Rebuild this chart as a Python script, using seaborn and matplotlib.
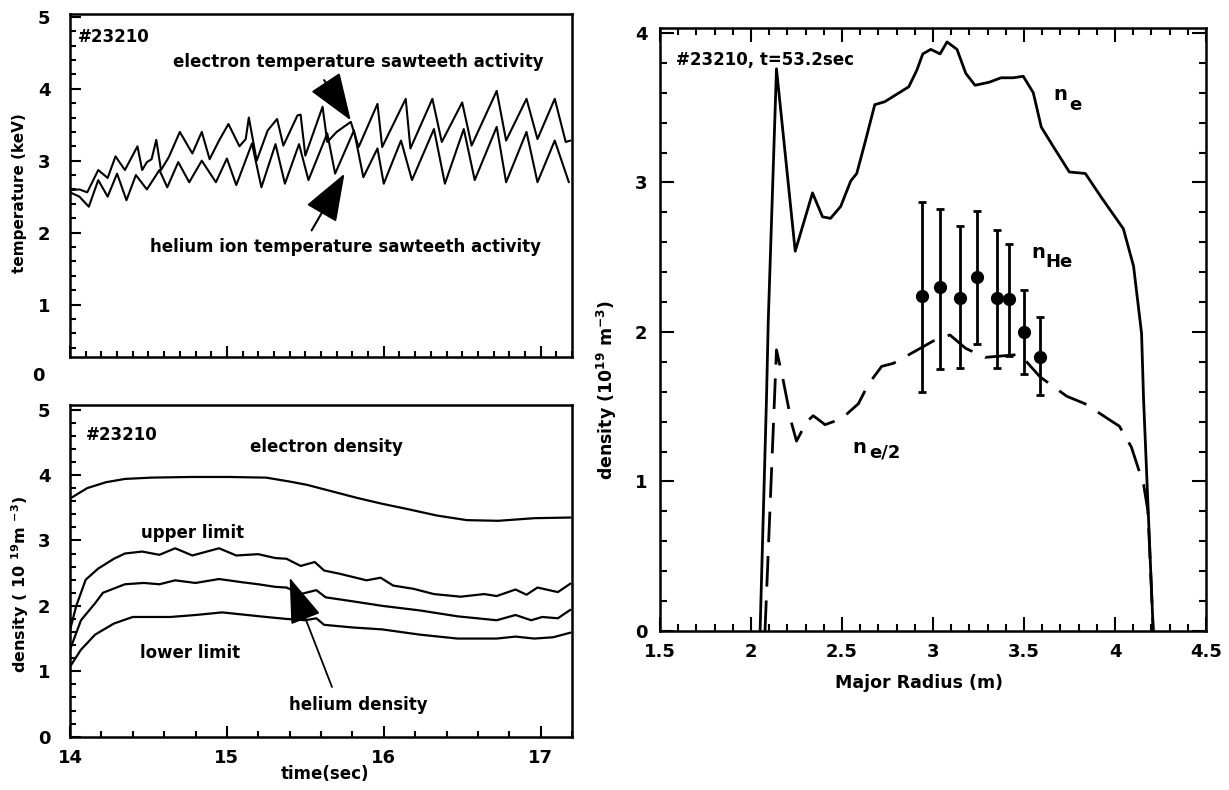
import matplotlib
matplotlib.use("Agg")
import matplotlib.pyplot as plt
import matplotlib.transforms as mtransforms
from matplotlib.ticker import MultipleLocator
import seaborn as sns

# ---------------- data: top-left (temperature sawteeth) ----------------
te_time = [14.00, 14.06, 14.11, 14.18, 14.24, 14.29, 14.35, 14.43, 14.46, 14.49, 14.52, 14.55,
           14.58, 14.63, 14.70, 14.78, 14.84, 14.89, 14.95, 15.01, 15.08, 15.12, 15.14, 15.19,
           15.26, 15.32, 15.36, 15.45, 15.47, 15.50, 15.61, 15.64, 15.70, 15.79, 15.84, 15.96,
           15.99, 16.14, 16.17, 16.31, 16.37, 16.50, 16.56, 16.72, 16.78, 16.91, 16.98, 17.09,
           17.16, 17.19]
te_kev = [2.59, 2.60, 2.56, 2.87, 2.76, 3.06, 2.87, 3.20, 2.87, 2.98, 3.02, 3.29,
          2.87, 3.05, 3.40, 3.10, 3.40, 3.02, 3.28, 3.51, 3.20, 3.30, 3.60, 3.00,
          3.42, 3.58, 3.21, 3.63, 3.64, 3.07, 3.75, 3.26, 3.40, 3.54, 3.19, 3.79,
          3.19, 3.86, 3.17, 3.86, 3.26, 3.81, 3.21, 3.97, 3.28, 3.86, 3.30, 3.86,
          3.26, 3.28]

ti_time = [14.00, 14.06, 14.12, 14.18, 14.24, 14.30, 14.36, 14.42, 14.49, 14.57, 14.62, 14.69,
           14.76, 14.84, 14.93, 15.00, 15.06, 15.16, 15.22, 15.31, 15.37, 15.46, 15.52, 15.64,
           15.69, 15.81, 15.87, 15.96, 16.00, 16.11, 16.18, 16.32, 16.39, 16.51, 16.58, 16.72,
           16.78, 16.91, 16.98, 17.09, 17.18]
ti_kev = [2.56, 2.50, 2.36, 2.73, 2.50, 2.82, 2.45, 2.80, 2.60, 2.87, 2.63, 2.98,
          2.70, 3.00, 2.70, 3.03, 2.66, 3.24, 2.63, 3.23, 2.68, 3.23, 2.73, 3.38,
          2.82, 3.42, 2.77, 3.17, 2.68, 3.28, 2.73, 3.44, 2.68, 3.44, 2.73, 3.47,
          2.70, 3.40, 2.70, 3.28, 2.70]

# ---------------- data: bottom-left (densities) ----------------
ne_time = [14.00, 14.11, 14.23, 14.35, 14.52, 14.77, 15.01, 15.25, 15.40, 15.51, 15.67,
           15.83, 15.99, 16.15, 16.34, 16.53, 16.73, 16.96, 17.19]
ne_dens = [3.64, 3.80, 3.89, 3.94, 3.96, 3.97, 3.97, 3.96, 3.90, 3.85, 3.75,
           3.65, 3.56, 3.48, 3.38, 3.31, 3.30, 3.34, 3.35]

up_time = [14.00, 14.04, 14.10, 14.18, 14.28, 14.35, 14.46, 14.57, 14.67, 14.78, 14.95,
           15.06, 15.20, 15.31, 15.38, 15.47, 15.56, 15.62, 15.72, 15.89, 15.98, 16.06,
           16.19, 16.32, 16.49, 16.64, 16.72, 16.84, 16.91, 16.98, 17.11, 17.19]
up_dens = [1.63, 2.00, 2.40, 2.57, 2.72, 2.80, 2.83, 2.78, 2.88, 2.77, 2.88,
           2.77, 2.79, 2.73, 2.72, 2.61, 2.67, 2.54, 2.49, 2.39, 2.43, 2.31,
           2.26, 2.18, 2.14, 2.18, 2.15, 2.25, 2.17, 2.28, 2.21, 2.34]

he_time = [14.00, 14.07, 14.16, 14.21, 14.35, 14.47, 14.57, 14.67, 14.80, 14.95, 15.10,
           15.20, 15.31, 15.38, 15.47, 15.57, 15.63, 15.80, 15.99, 16.23, 16.47, 16.72,
           16.84, 16.94, 17.01, 17.11, 17.19]
he_dens = [1.33, 1.78, 2.04, 2.20, 2.33, 2.35, 2.33, 2.39, 2.35, 2.41, 2.36,
           2.33, 2.29, 2.28, 2.18, 2.24, 2.13, 2.07, 2.00, 1.93, 1.84, 1.78,
           1.86, 1.78, 1.83, 1.81, 1.94]

lo_time = [14.00, 14.07, 14.16, 14.28, 14.40, 14.64, 14.80, 14.97, 15.25, 15.38, 15.50,
           15.57, 15.62, 15.80, 15.99, 16.23, 16.47, 16.72, 16.84, 16.96, 17.08, 17.19]
lo_dens = [1.07, 1.33, 1.56, 1.73, 1.83, 1.83, 1.86, 1.90, 1.83, 1.80, 1.78,
           1.81, 1.71, 1.67, 1.64, 1.56, 1.50, 1.50, 1.53, 1.50, 1.52, 1.59]

# ---------------- data: right (radial profiles) ----------------
ne_R = [2.05, 2.085, 2.095, 2.14, 2.243, 2.338, 2.393, 2.437, 2.493, 2.548, 2.581,
        2.625, 2.680, 2.735, 2.801, 2.867, 2.911, 2.944, 2.988, 3.039, 3.077, 3.132,
        3.180, 3.231, 3.308, 3.374, 3.440, 3.496, 3.551, 3.595, 3.661, 3.749, 3.837,
        3.925, 4.046, 4.102, 4.146, 4.157, 4.21]
ne_val = [0.00, 1.55, 2.08, 3.76, 2.54, 2.93, 2.77, 2.76, 2.84, 3.01, 3.06,
          3.26, 3.52, 3.54, 3.59, 3.64, 3.75, 3.86, 3.89, 3.86, 3.94, 3.89,
          3.73, 3.65, 3.67, 3.70, 3.70, 3.71, 3.60, 3.37, 3.24, 3.07, 3.06,
          2.90, 2.69, 2.44, 1.99, 1.55, 0.00]

half_R = [2.077, 2.14, 2.178, 2.223, 2.25, 2.306, 2.342, 2.407, 2.498, 2.59, 2.645,
          2.718, 2.782, 2.90, 3.002, 3.093, 3.18, 3.286, 3.478, 3.588, 3.735, 3.835,
          3.973, 4.024, 4.09, 4.157, 4.18, 4.19, 4.21]
half_val = [0.00, 1.88, 1.67, 1.39, 1.27, 1.40, 1.44, 1.38, 1.42, 1.52, 1.65,
            1.77, 1.79, 1.87, 1.94, 1.98, 1.89, 1.83, 1.85, 1.70, 1.57, 1.52,
            1.41, 1.37, 1.23, 0.98, 0.81, 0.56, 0.00]

he_R = [2.94, 3.04, 3.15, 3.24, 3.35, 3.42, 3.50, 3.59]
he_val = [2.24, 2.30, 2.23, 2.37, 2.23, 2.22, 2.00, 1.83]
he_hi = [2.87, 2.82, 2.71, 2.81, 2.68, 2.59, 2.28, 2.10]
he_lo = [1.60, 1.75, 1.76, 1.92, 1.76, 1.84, 1.72, 1.58]

# ---------------- styling ----------------
sns.set_theme(style="ticks")
plt.rcParams['font.family'] = ['DejaVu Sans']
plt.rcParams['font.weight'] = 'bold'
plt.rcParams['mathtext.fontset'] = 'custom'
plt.rcParams['mathtext.bf'] = 'DejaVu Sans:bold'
plt.rcParams['mathtext.rm'] = 'DejaVu Sans:bold'
plt.rcParams['mathtext.default'] = 'bf'

fig = plt.figure(figsize=(12.29, 7.90), dpi=100)
fig.patch.set_facecolor('white')

ax1 = fig.add_axes([0.05696, 0.5481, 0.40846, 0.4342])
ax2 = fig.add_axes([0.05696, 0.06747, 0.40846, 0.41987])
ax3 = fig.add_axes([0.53702, 0.20127, 0.44426, 0.76329])

for ax in (ax1, ax2, ax3):
    ax.set_facecolor('white')
    for s in ax.spines.values():
        s.set_linewidth(1.8)
        s.set_color('black')
        s.set_visible(True)

BF = dict(fontweight='bold', color='black')

# ---------------- top-left ----------------
sns.lineplot(x=te_time, y=te_kev, ax=ax1, color='black', lw=1.5, estimator=None, sort=False)
sns.lineplot(x=ti_time, y=ti_kev, ax=ax1, color='black', lw=1.5, estimator=None, sort=False)
ax1.set_xlim(14, 17.2)
ax1.set_ylim(0.27, 5.04)
ax1.xaxis.set_major_locator(MultipleLocator(1))
ax1.xaxis.set_minor_locator(MultipleLocator(0.1))
ax1.yaxis.set_major_locator(MultipleLocator(1))
ax1.yaxis.set_minor_locator(MultipleLocator(0.2))
ax1.tick_params(axis='both', which='both', direction='in', top=False, right=False, width=1.5, colors='black')
ax1.tick_params(axis='both', which='major', length=8)
ax1.tick_params(axis='both', which='minor', length=4)
ax1.tick_params(axis='x', labelbottom=False)
ax1.tick_params(axis='y', labelsize=13, pad=14)
for lab in ax1.get_yticklabels():
    lab.set_fontweight('bold')
ax1.text(-0.064, 0.0, '0', transform=mtransforms.blended_transform_factory(ax1.transAxes, ax1.transData),
         ha='center', va='center', fontsize=13, clip_on=False, **BF)
ax1.set_ylabel('temperature (keV)', fontsize=11, fontweight='bold', color='black')
ax1.yaxis.set_label_coords(-0.085, 0.478)
ax1.set_xlabel('')
ax1.text(0.016, 0.933, '#23210', transform=ax1.transAxes, ha='left', va='center', fontsize=12, **BF)
ax1.text(0.574, 0.86, 'electron temperature sawteeth activity', transform=ax1.transAxes,
         ha='center', va='center', fontsize=12, **BF)
ax1.text(0.548, 0.321, 'helium ion temperature sawteeth activity', transform=ax1.transAxes,
         ha='center', va='center', fontsize=12, **BF)
ax1.annotate('', xy=(15.79, 3.56), xytext=(15.62, 4.12),
             arrowprops=dict(arrowstyle='-|>,head_length=1.5,head_width=0.55', mutation_scale=20,
                             color='black', lw=1.5, shrinkA=0, shrinkB=0))
ax1.annotate('', xy=(15.75, 2.82), xytext=(15.54, 2.03),
             arrowprops=dict(arrowstyle='-|>,head_length=1.5,head_width=0.55', mutation_scale=20,
                             color='black', lw=1.5, shrinkA=0, shrinkB=0))

# ---------------- bottom-left ----------------
for xs, ys in ((ne_time, ne_dens), (up_time, up_dens), (he_time, he_dens), (lo_time, lo_dens)):
    sns.lineplot(x=xs, y=ys, ax=ax2, color='black', lw=1.6, estimator=None, sort=False)
ax2.set_xlim(14, 17.2)
ax2.set_ylim(0, 5.07)
ax2.xaxis.set_major_locator(MultipleLocator(1))
ax2.xaxis.set_minor_locator(MultipleLocator(0.2))
ax2.yaxis.set_major_locator(MultipleLocator(1))
ax2.yaxis.set_minor_locator(MultipleLocator(0.2))
ax2.tick_params(axis='both', which='both', direction='in', top=False, right=False, width=1.5, colors='black')
ax2.tick_params(axis='both', which='major', length=8)
ax2.tick_params(axis='both', which='minor', length=4)
ax2.tick_params(axis='y', labelsize=13, pad=14)
ax2.tick_params(axis='x', labelsize=13, pad=9)
for lab in ax2.get_xticklabels() + ax2.get_yticklabels():
    lab.set_fontweight('bold')
ax2.set_xlabel('time(sec)', fontsize=12, fontweight='bold', color='black')
ax2.xaxis.set_label_coords(0.508, -0.085)
ax2.set_ylabel(r'density ( 10 $^{19}$m $^{-3}$)', fontsize=11.5, fontweight='bold', color='black')
ax2.yaxis.set_label_coords(-0.078, 0.46)
ax2.text(0.032, 0.91, '#23210', transform=ax2.transAxes, ha='left', va='center', fontsize=12, **BF)
ax2.text(0.51, 0.873, 'electron density', transform=ax2.transAxes, ha='center', va='center', fontsize=12, **BF)
ax2.text(0.245, 0.614, 'upper limit', transform=ax2.transAxes, ha='center', va='center', fontsize=12, **BF)
ax2.text(0.24, 0.252, 'lower limit', transform=ax2.transAxes, ha='center', va='center', fontsize=12, **BF)
ax2.text(0.574, 0.096, 'helium density', transform=ax2.transAxes, ha='center', va='center', fontsize=12, **BF)
ax2.annotate('', xy=(15.40, 2.43), xytext=(15.67, 0.76),
             arrowprops=dict(arrowstyle='-|>,head_length=1.45,head_width=0.5', mutation_scale=20,
                             color='black', lw=1.3, shrinkA=0, shrinkB=0))

# ---------------- right ----------------
sns.lineplot(x=ne_R, y=ne_val, ax=ax3, color='black', lw=2.0, estimator=None, sort=False)
sns.lineplot(x=half_R, y=half_val, ax=ax3, color='black', lw=2.0, estimator=None, sort=False,
             linestyle=(0, (11, 5)))
yerr = [[v - l for v, l in zip(he_val, he_lo)], [h - v for v, h in zip(he_val, he_hi)]]
ax3.errorbar(he_R, he_val, yerr=yerr, fmt='o', color='black', ms=8.5, capsize=3,
             elinewidth=2.0, capthick=2.0)
ax3.set_xlim(1.5, 4.5)
ax3.set_ylim(0, 4.033)
ax3.xaxis.set_major_locator(MultipleLocator(0.5))
ax3.xaxis.set_minor_locator(MultipleLocator(0.1))
ax3.yaxis.set_major_locator(MultipleLocator(1))
ax3.yaxis.set_minor_locator(MultipleLocator(0.2))
ax3.xaxis.set_major_formatter(matplotlib.ticker.FuncFormatter(lambda v, p: ('%g' % v)))
ax3.tick_params(axis='both', which='both', direction='in', top=True, right=True, width=1.5, colors='black')
ax3.tick_params(axis='both', which='major', length=10)
ax3.tick_params(axis='both', which='minor', length=5)
ax3.tick_params(axis='y', labelsize=13, pad=9)
ax3.tick_params(axis='x', labelsize=13, pad=9)
for lab in ax3.get_xticklabels() + ax3.get_yticklabels():
    lab.set_fontweight('bold')
ax3.set_xlabel('Major Radius (m)', fontsize=12.5, fontweight='bold', color='black')
ax3.xaxis.set_label_coords(0.474, -0.072)
ax3.set_ylabel(r'density (10$^{19}$ m$^{-3}$)', fontsize=12.5, fontweight='bold', color='black')
ax3.yaxis.set_label_coords(-0.075, 0.40)
ax3.text(0.029, 0.947, '#23210, t=53.2sec', transform=ax3.transAxes, ha='left', va='center', fontsize=12, **BF)
ax3.text(0.72, 0.889, 'n', transform=ax3.transAxes, ha='left', va='center', fontsize=14, **BF)
ax3.text(0.75, 0.873, 'e', transform=ax3.transAxes, ha='left', va='center', fontsize=13, **BF)
ax3.text(0.68, 0.627, 'n', transform=ax3.transAxes, ha='left', va='center', fontsize=14, **BF)
ax3.text(0.706, 0.612, 'He', transform=ax3.transAxes, ha='left', va='center', fontsize=13, **BF)
ax3.text(0.353, 0.305, 'n', transform=ax3.transAxes, ha='left', va='center', fontsize=14, **BF)
ax3.text(0.383, 0.296, 'e/2', transform=ax3.transAxes, ha='left', va='center', fontsize=13, **BF)

fig.savefig('out.png', dpi=100, facecolor='white')
